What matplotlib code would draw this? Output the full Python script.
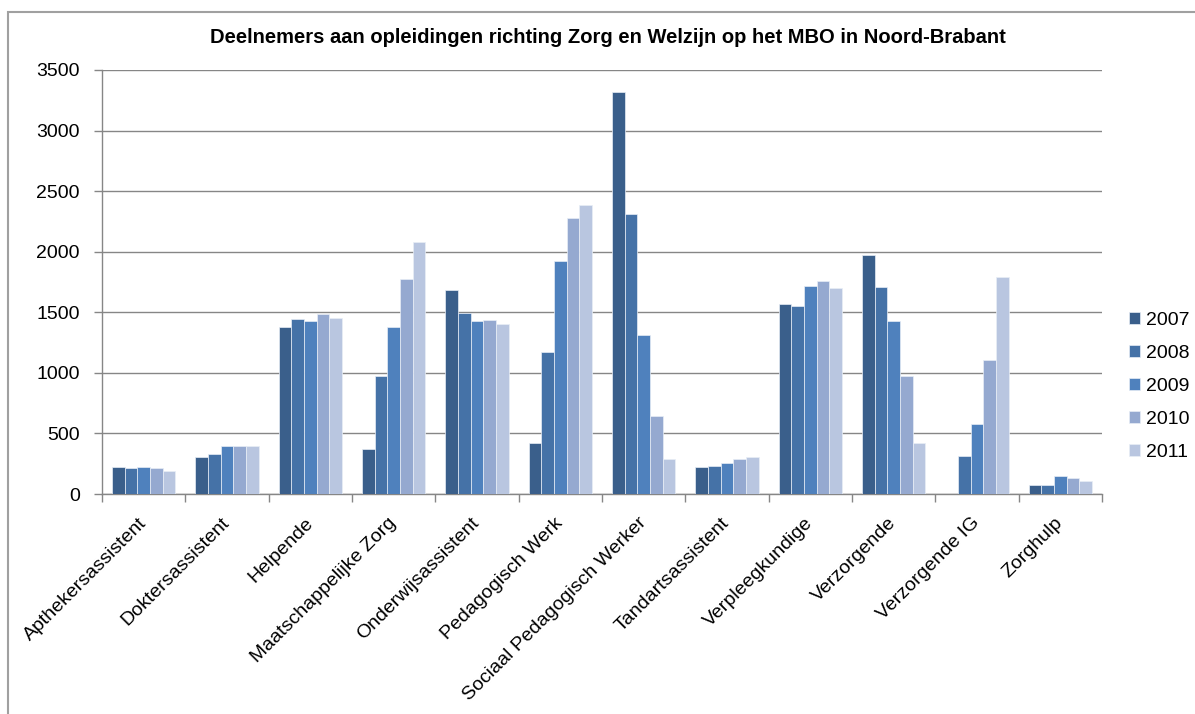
import matplotlib.pyplot as plt
import numpy as np
from matplotlib.patches import Rectangle

plt.rcParams['font.family'] = ['Liberation Sans', 'DejaVu Sans']

# Opleidingen (categorieen op de x-as)
opleidingen = ['Apthekersassistent', 'Doktersassistent', 'Helpende',
               'Maatschappelijke Zorg', 'Onderwijsassistent', 'Pedagogisch Werk',
               'Sociaal Pedagogisch Werker', 'Tandartsassistent', 'Verpleegkundige',
               'Verzorgende', 'Verzorgende IG', 'Zorghulp']

jaren = ['2007', '2008', '2009', '2010', '2011']

# Aantal deelnemers per jaar
d2007 = [225, 305, 1380, 370, 1680, 420, 3320, 225, 1565, 1975, 0, 75]
d2008 = [215, 330, 1445, 970, 1490, 1170, 2310, 235, 1555, 1710, 315, 75]
d2009 = [225, 400, 1430, 1375, 1430, 1925, 1315, 255, 1720, 1430, 580, 150]
d2010 = [215, 400, 1485, 1775, 1440, 2280, 645, 285, 1755, 970, 1105, 130]
d2011 = [190, 400, 1455, 2080, 1400, 2385, 290, 305, 1700, 420, 1790, 105]
reeksen = [d2007, d2008, d2009, d2010, d2011]

kleuren = ['#3A5F8B', '#4572A7', '#4F81BD', '#95A9D0', '#B9C6E0']
grijs = '#868686'

fig = plt.figure(figsize=(11.95, 7.14), dpi=100)
ax = fig.add_axes([0.0854, 0.3081, 0.8368, 0.5939])

x = np.arange(len(opleidingen))
breedte = 0.152
for i, (jaar, waarden) in enumerate(zip(jaren, reeksen)):
    ax.bar(x + (i - 2) * breedte, waarden, breedte, color=kleuren[i],
           edgecolor='#E8EEF6', linewidth=0.5, label=jaar, zorder=3)

ax.set_xlim(-0.5, len(opleidingen) - 0.5)
ax.set_ylim(0, 3500)
ax.set_yticks(np.arange(0, 3501, 500))
ax.yaxis.grid(True, color=grijs, linewidth=1)
ax.set_axisbelow(True)

# categorie-labels op het midden, streepjes tussen de groepen
ax.set_xticks(x)
ax.set_xticklabels(opleidingen, rotation=45, ha='right', va='center',
                   rotation_mode='anchor')
ax.set_xticks(np.arange(-0.5, len(opleidingen)), minor=True)
ax.tick_params(axis='x', which='major', length=0, pad=19, labelsize=14)
ax.tick_params(axis='x', which='minor', length=6, color=grijs, width=1)
ax.tick_params(axis='y', length=6, color=grijs, width=1, pad=10, labelsize=14)

for kant in ['top', 'right']:
    ax.spines[kant].set_visible(False)
for kant in ['left', 'bottom']:
    ax.spines[kant].set_color(grijs)
    ax.spines[kant].set_linewidth(1)

fig.text(0.5084, 0.947, 'Deelnemers aan opleidingen richting Zorg en Welzijn op het MBO in Noord-Brabant',
         ha='center', va='center', fontsize=14.5, fontweight='bold')

ax.legend(loc='center left', bbox_to_anchor=(0.9448, 0.4587),
          bbox_transform=fig.transFigure, frameon=False, fontsize=14,
          handlelength=0.57, handleheight=0.57, handletextpad=0.3,
          labelspacing=0.82, borderpad=0, borderaxespad=0)

# rand om het diagram
fig.patches.append(Rectangle((8 / 1195, -0.05), 1.1, 1 - 12 / 714 + 0.05,
                             transform=fig.transFigure, fill=False,
                             edgecolor='#A0A0A0', linewidth=1.5))

fig.savefig('out.png', dpi=100)
